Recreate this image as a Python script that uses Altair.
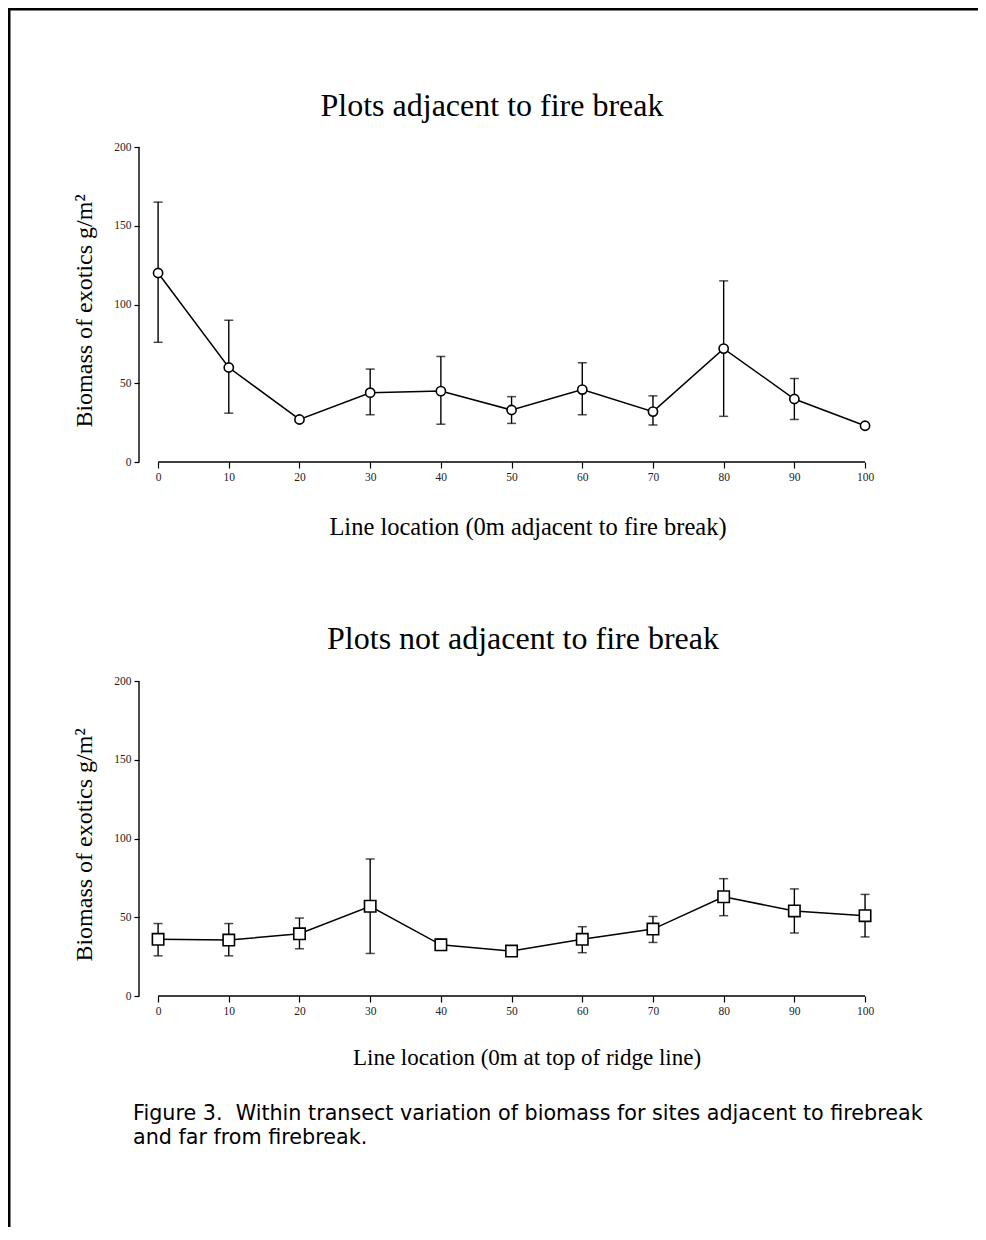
import altair as alt
import pandas as pd

# ---------------- data ----------------
x_loc = [0, 10, 20, 30, 40, 50, 60, 70, 80, 90, 100]

top_mean = [120, 60, 27, 44, 45, 33, 46, 32, 72, 40, 23]
top_upper = [165, 90, None, 59, 67, 41.5, 63, 42, 115, 53, None]
top_lower = [76, 31, None, 30, 24, 24.5, 30, 23.5, 29, 27, None]

bot_mean = [36, 35.5, 39.5, 57, 32.5, 28.5, 36, 42.5, 63, 54, 51]
bot_upper = [46, 46, 49.5, 87, 36, None, 44, 50.5, 74.5, 68, 64.5]
bot_lower = [25.5, 25.5, 30, 27, 29, None, 27.5, 34, 51, 40, 37.5]

y_ticks = [0, 50, 100, 150, 200]
x_ticks = x_loc

top_title = "Plots adjacent to fire break"
bot_title = "Plots not adjacent to fire break"
top_xtitle = "Line location (0m adjacent to fire break)"
bot_xtitle = "Line location (0m at top of ridge line)"
y_title = "Biomass of exotics g/m\u00b2"
caption = ["Figure 3.\u00a0\u00a0Within transect variation of biomass for sites adjacent to firebreak",
           "and far from firebreak."]

SERIF = "Liberation Serif"
SANS = "DejaVu Sans"
W, H = 731, 315

xscale = alt.Scale(domain=[-2.7, 100.7], nice=False, zero=False)
yscale = alt.Scale(domain=[0, 200], nice=False)

xaxis = alt.Axis(values=x_ticks, format="d", domain=False, grid=False, tickSize=6,
                 tickColor="black", tickWidth=1.2, labelFont=SERIF, labelFontSize=11.5,
                 labelColor="#222", labelPadding=3, title=None)
yaxis = alt.Axis(values=y_ticks, format="d", domain=False, grid=False, tickSize=5,
                 tickColor="black", tickWidth=1.2, labelFont=SERIF, labelFontSize=11.5,
                 labelColor="#222", labelPadding=3, title=None)


def text_layer(s, xv, yv, font, size, angle=0, align="center"):
    df = pd.DataFrame({"t": [s]})
    return alt.Chart(df).mark_text(font=font, fontSize=size, angle=angle, align=align,
                                   baseline="middle", color="black", lineBreak="\n",
                                   lineHeight=24).encode(
        text="t:N", x=alt.value(xv), y=alt.value(yv))


def panel(mean, upper, lower, shape, size, title, xtitle, title_pos, xtitle_pos, xtitle_size,
          ytitle_y, extra=None):
    df = pd.DataFrame({"x": x_loc, "mean": mean, "upper": upper, "lower": lower})
    base = alt.Chart(df)
    line = base.mark_line(color="black", strokeWidth=1.5).encode(
        x=alt.X("x:Q", scale=xscale, axis=xaxis),
        y=alt.Y("mean:Q", scale=yscale, axis=yaxis))
    err = base.transform_filter("isValid(datum.upper)").mark_rule(color="black", strokeWidth=1.4).encode(
        x="x:Q", y="lower:Q", y2="upper:Q")
    cap_u = base.transform_filter("isValid(datum.upper)").mark_tick(
        orient="horizontal", size=9, thickness=1.5, color="black").encode(x="x:Q", y="upper:Q")
    cap_l = base.transform_filter("isValid(datum.upper)").mark_tick(
        orient="horizontal", size=9, thickness=1.5, color="black").encode(x="x:Q", y="lower:Q")
    pts = base.mark_point(shape=shape, filled=True, fill="white", stroke="black",
                          strokeWidth=1.6, size=size, opacity=1).encode(x="x:Q", y="mean:Q")
    one = alt.Chart(pd.DataFrame({"k": [0]}))
    xrule = one.mark_rule(color="black", strokeWidth=1.4).encode(
        x=alt.datum(0), x2=alt.datum(100), y=alt.datum(0))
    yrule = one.mark_rule(color="black", strokeWidth=1.4).encode(
        x=alt.value(0), y=alt.datum(0), y2=alt.datum(200))
    layers = [err, cap_u, cap_l, line, pts, xrule, yrule,
              text_layer(title, title_pos[0], title_pos[1], SERIF, 32),
              text_layer(xtitle, xtitle_pos[0], xtitle_pos[1], SERIF, xtitle_size),
              text_layer(y_title, -54, ytitle_y, SERIF, 24, angle=270)]
    if extra:
        layers += extra
    return alt.layer(*layers).properties(width=W, height=H)


frame = alt.Chart(pd.DataFrame({"k": [0]}))
frame_top = frame.mark_rect(color="black").encode(
    x=alt.value(-131), x2=alt.value(839), y=alt.value(-139), y2=alt.value(-136.5))
frame_left = frame.mark_rect(color="black").encode(
    x=alt.value(-131), x2=alt.value(-128.5), y=alt.value(-139), y2=alt.value(1080))

top = panel(top_mean, top_upper, top_lower, "circle", 85, top_title, top_xtitle,
            (353, -41), (389, 381), 24.5, 164, extra=[frame_top, frame_left])
bottom = panel(bot_mean, bot_upper, bot_lower, "square", 130, bot_title, bot_xtitle,
               (384, -42), (388, 377), 23, 164,
               extra=[text_layer("\n".join(caption), -6, 433, SANS, 20.7, align="left")])

chart = alt.vconcat(top, bottom, spacing=219, bounds="flush").properties(
    padding=0, background="white"
).configure_view(strokeOpacity=0, strokeWidth=0)

chart.save("out.html", embed_options={"renderer": "svg", "actions": False})
